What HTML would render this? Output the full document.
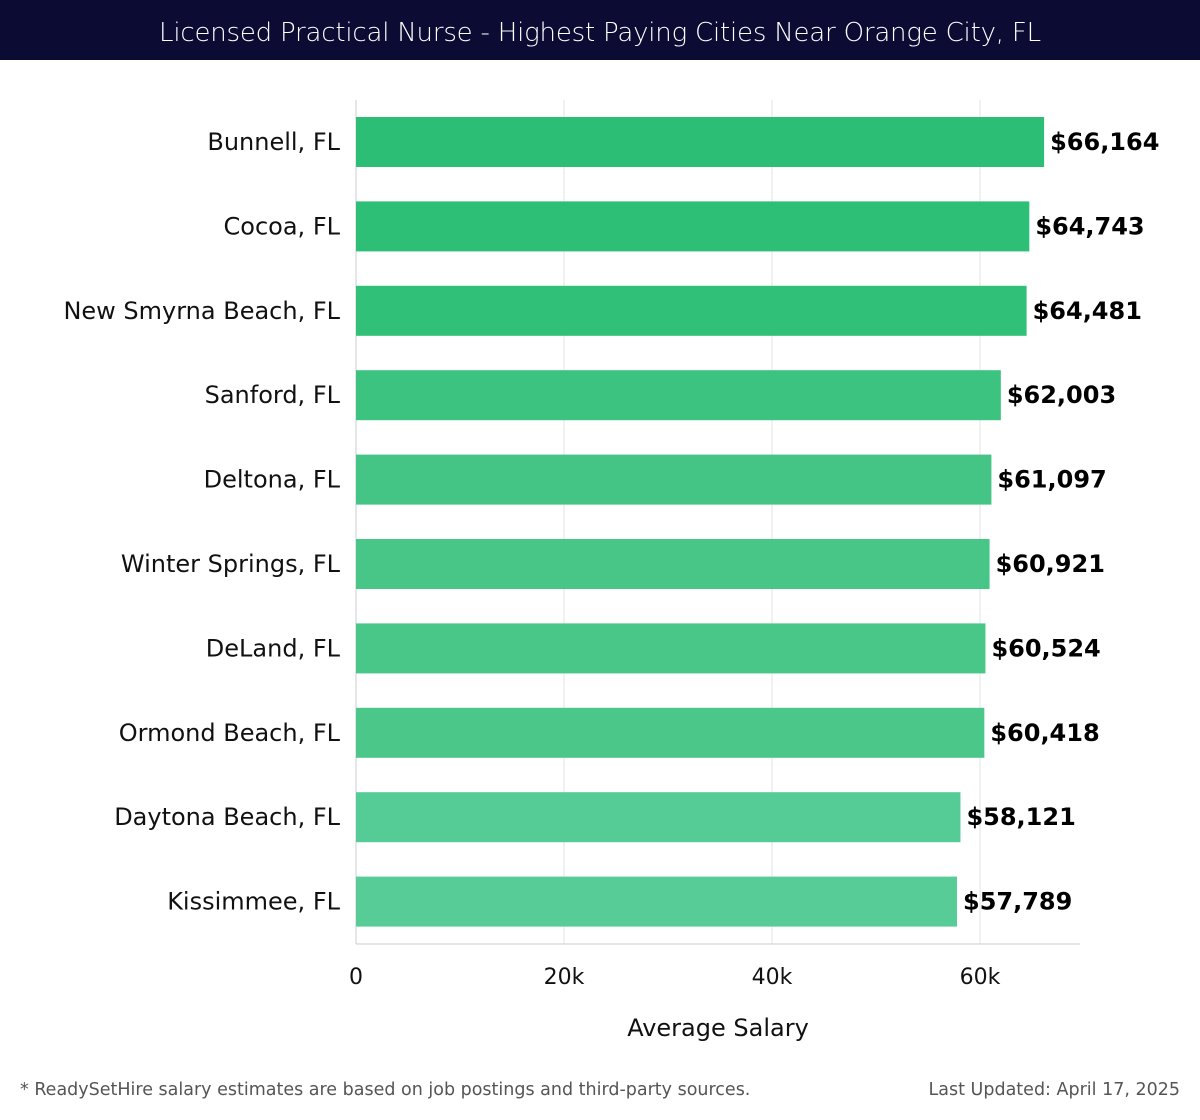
<!DOCTYPE html>
<html><head><meta charset="utf-8"><style>
body{margin:0;width:1200px;height:1120px;background:#fff;font-family:"Liberation Sans","DejaVu Sans",sans-serif;overflow:hidden}
#title{position:absolute;left:0;top:0;width:1200px;height:60px;background:#0b0b33;color:#fff;font-size:26px;line-height:66px;text-align:center;font-family:"DejaVu Sans","Liberation Sans",sans-serif;font-weight:300;letter-spacing:-0.2px}
.foot{position:absolute;top:1080px;font-size:17.5px;color:#555;font-family:"DejaVu Sans","Liberation Sans",sans-serif}
</style></head><body>
<div id="title">Licensed Practical Nurse - Highest Paying Cities Near Orange City, FL</div>
<svg id="chart" width="1200" height="1120" style="position:absolute;left:0;top:0"></svg>
<div class="foot" style="left:20px">* ReadySetHire salary estimates are based on job postings and third-party sources.</div>
<div class="foot" style="right:20px">Last Updated: April 17, 2025</div>
<script>
const categories=["Bunnell, FL","Cocoa, FL","New Smyrna Beach, FL","Sanford, FL","Deltona, FL","Winter Springs, FL","DeLand, FL","Ormond Beach, FL","Daytona Beach, FL","Kissimmee, FL"];
const values=[66164,64743,64481,62003,61097,60921,60524,60418,58121,57789];
const valueLabels=["$66,164","$64,743","$64,481","$62,003","$61,097","$60,921","$60,524","$60,418","$58,121","$57,789"];
const ticks=[0,20000,40000,60000];
const tickLabels=["0","20k","40k","60k"];
const NS="http://www.w3.org/2000/svg";
const svg=document.getElementById('chart');
const x0=356,pxPer=624/60000,top0=100,bottom=944,step=84.4,barH=50;
const xs=v=>x0+v*pxPer;
const yc=i=>142+i*step;
function mk(t,a){const e=document.createElementNS(NS,t);for(const k in a)e.setAttribute(k,a[k]);svg.appendChild(e);return e;}
ticks.forEach((t,i)=>{
 const g=mk('line',{x1:xs(t),x2:xs(t),y1:top0,y2:bottom,stroke:i==0?'#ccc':'#e3e3e3','stroke-width':1});
 
 
 const tl=mk('text',{x:xs(t),y:984,'text-anchor':'middle','font-size':22,fill:'#111','font-family':'DejaVu Sans, Liberation Sans, sans-serif'});
 tl.textContent=tickLabels[i];
 
 
});
const ax=mk('line',{x1:x0,x2:1080,y1:bottom,y2:bottom,stroke:'#ccc'});


const cols=['#2bbe74','#2ebf76','#31c078','#3cc37f','#44c585','#47c687','#49c788','#4ac789','#55cb95','#57cc97'];
categories.forEach((c,i)=>{
 const b=mk('rect',{x:x0,y:yc(i)-barH/2,width:xs(values[i])-x0,height:barH,fill:cols[i]});
 
 
 const l=mk('text',{x:340,y:yc(i)+8,'text-anchor':'end','font-size':24,fill:'#111','font-family':'DejaVu Sans, Liberation Sans, sans-serif'});
 l.textContent=c;
 
 
 const v=mk('text',{x:xs(values[i])+6,y:yc(i)+8,'font-size':24,'font-weight':'bold',fill:'#000','font-family':'DejaVu Sans, Liberation Sans, sans-serif'});
 v.textContent=valueLabels[i];
 
 
});
const at=mk('text',{x:718,y:1036,'text-anchor':'middle','font-size':24,fill:'#111','font-family':'DejaVu Sans, Liberation Sans, sans-serif'});
at.textContent='Average Salary';


</script>
</body></html>
